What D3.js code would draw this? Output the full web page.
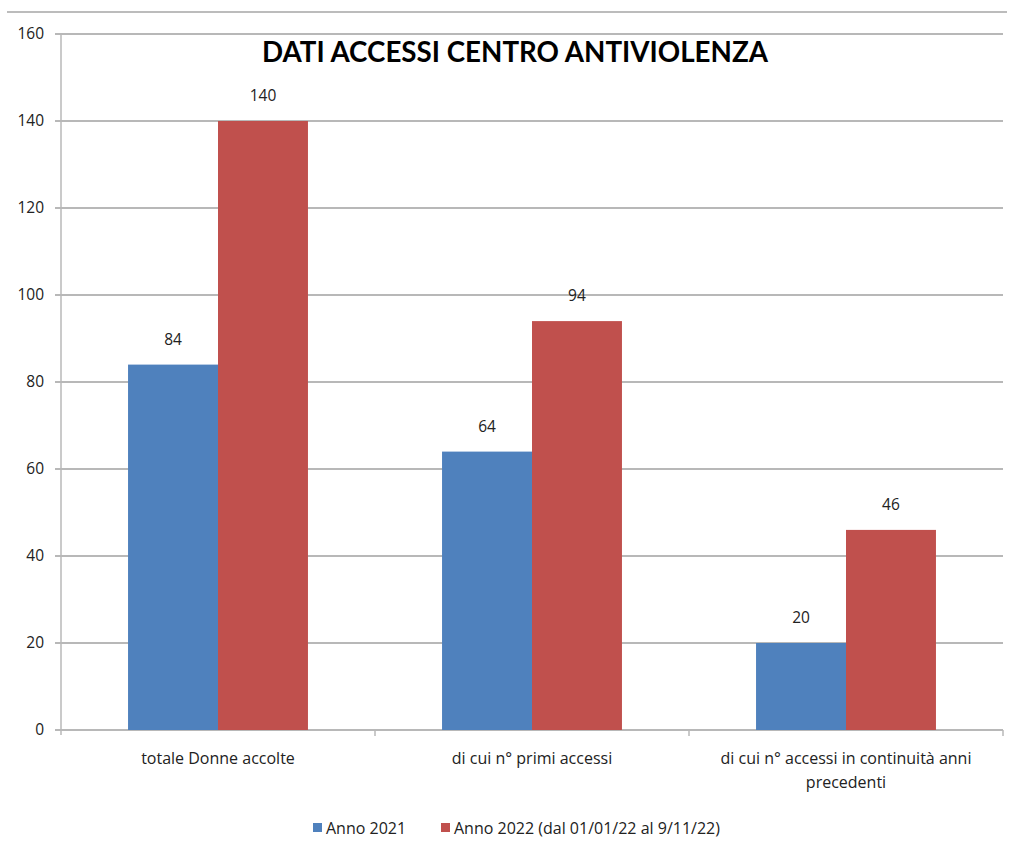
<!DOCTYPE html>
<meta charset="utf-8">
<script src="https://d3js.org/d3.v7.min.js"></script>
<style>
  body { margin: 0; background: #fff; }
  text { font-family: "Open Sans", Lato, sans-serif; fill: #222; }
</style>
<body>
<div id="vis"></div>
<script>
// data
var categories = ["totale Donne accolte", "di cui n° primi accessi", "di cui n° accessi in continuità anni precedenti"];
var seriesNames = ["Anno 2021", "Anno 2022 (dal 01/01/22 al 9/11/22)"];
var anno2021 = [84, 64, 20];
var anno2022 = [140, 94, 46];
var yTicks = [0, 20, 40, 60, 80, 100, 120, 140, 160];
var colors = ["#4f81bd", "#c0504d"];

var W = 1011, H = 848;
var margin = {top: 34, right: 8, bottom: 118, left: 61},
    width = 1003 - margin.left,
    height = 730 - margin.top;

var svg = d3.select("#vis").append("svg")
    .attr("width", W).attr("height", H);

// top frame line
svg.append("line")
  .attr("x1", 7).attr("x2", 1007).attr("y1", 12).attr("y2", 12)
  .attr("stroke", "#a6a6a6").attr("stroke-width", 1.5);

var g = svg.append("g").attr("transform", "translate(" + margin.left + "," + margin.top + ")");

var y = d3.scaleLinear().domain([0, 160]).range([height, 0]);
var x0 = d3.scaleBand().domain(categories).range([0, width]);
var x1 = d3.scaleBand().domain(seriesNames)
  .range([x0.bandwidth() * 0.2135, x0.bandwidth() * 0.7865]);

// gridlines
g.selectAll(".grid").data(yTicks).enter().append("line")
  .attr("x1", -6).attr("x2", width)
  .attr("y1", function(d){ return y(d); }).attr("y2", function(d){ return y(d); })
  .attr("stroke", "#a0a0a0").attr("stroke-width", 1.5);

// y axis line
g.append("line").attr("x1", 0).attr("x2", 0).attr("y1", 0).attr("y2", height + 5)
  .attr("stroke", "#b8b8b8").attr("stroke-width", 1.5);

// category ticks
g.selectAll(".ctick").data(categories).enter().append("line")
  .attr("x1", function(d){ return x0(d) + x0.bandwidth(); })
  .attr("x2", function(d){ return x0(d) + x0.bandwidth(); })
  .attr("y1", height).attr("y2", height + 6)
  .attr("stroke", "#b8b8b8").attr("stroke-width", 1.5);

// y tick labels
g.selectAll(".ylab").data(yTicks).enter().append("text")
  .attr("x", -17).attr("y", function(d){ return y(d); })
  .attr("dy", "0.35em").attr("text-anchor", "end")
  .style("font-size", "15.5px")
  .text(function(d){ return d; });

// bars
var groups = g.selectAll(".grp").data(categories).enter().append("g")
  .attr("transform", function(d){ return "translate(" + x0(d) + ",0)"; });

groups.selectAll("rect").data(function(d, i){ return [
    {s: seriesNames[0], v: anno2021[i], c: colors[0]},
    {s: seriesNames[1], v: anno2022[i], c: colors[1]}]; })
  .enter().append("rect")
  .attr("x", function(d){ return x1(d.s); })
  .attr("width", x1.bandwidth())
  .attr("y", function(d){ return y(d.v); })
  .attr("height", function(d){ return height - y(d.v); })
  .attr("fill", function(d){ return d.c; });

groups.selectAll(".vlab").data(function(d, i){ return [
    {s: seriesNames[0], v: anno2021[i]},
    {s: seriesNames[1], v: anno2022[i]}]; })
  .enter().append("text")
  .attr("x", function(d){ return x1(d.s) + x1.bandwidth() / 2; })
  .attr("y", function(d){ return y(d.v) - 20; })
  .attr("text-anchor", "middle")
  .style("font-size", "15.5px")
  .text(function(d){ return d.v; });

// category labels
var catLines = [["totale Donne accolte"], ["di cui n° primi accessi"], ["di cui n° accessi in continuità anni", "precedenti"]];
categories.forEach(function(c, i){
  var t = g.append("text")
    .attr("x", x0(c) + x0.bandwidth() / 2)
    .attr("y", height + 34)
    .attr("text-anchor", "middle")
    .style("font-size", "16px");
  catLines[i].forEach(function(l, j){
    t.append("tspan").attr("x", x0(c) + x0.bandwidth() / 2)
      .attr("dy", j === 0 ? 0 : 24).text(l);
  });
});

// title
svg.append("text")
  .attr("x", 515).attr("y", 62)
  .attr("text-anchor", "middle")
  .attr("textLength", 506).attr("lengthAdjust", "spacingAndGlyphs")
  .style("font-family", "Lato, sans-serif")
  .style("font-size", "28px").style("font-weight", "bold").style("fill", "#000")
  .text("DATI ACCESSI CENTRO ANTIVIOLENZA");

// legend
var legX = [313, 441];
seriesNames.forEach(function(s, i){
  svg.append("rect").attr("x", legX[i]).attr("y", 823).attr("width", 9).attr("height", 9)
    .attr("fill", colors[i]);
  svg.append("text").attr("x", legX[i] + 13).attr("y", 834)
    .style("font-size", "16px").text(s);
});
</script>
</body>
